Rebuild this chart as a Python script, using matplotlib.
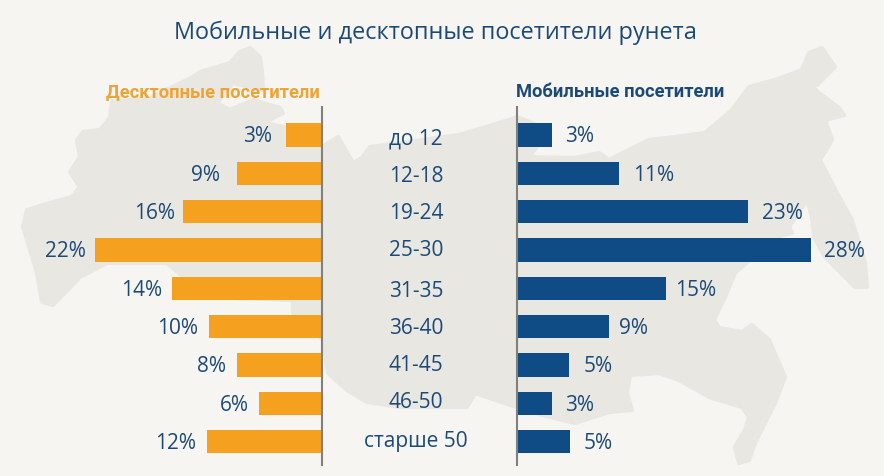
import matplotlib
matplotlib.use("Agg")
import matplotlib.pyplot as plt
from matplotlib.patches import Polygon

age_groups = ["до 12", "12-18", "19-24", "25-30", "31-35", "36-40", "41-45", "46-50", "старше 50"]
desktop_labels = [3, 9, 16, 22, 14, 10, 8, 6, 12]
mobile_labels = [3, 11, 23, 28, 15, 9, 5, 3, 5]
# bar lengths as drawn, they are not quite proportional to the printed numbers
desktop_bars = [3.5, 8.25, 13.5, 22.0, 14.6, 11.0, 8.25, 6.1, 11.2]
mobile_bars = [3.3, 9.7, 22.0, 28.0, 14.2, 8.75, 4.95, 3.3, 5.05]

BG = "#f6f5f1"
MAP = "#e9e7e1"
ORANGE = "#f5a11f"
BLUE = "#0f4c86"
TEXT = "#1c4a78"
AXIS = "#80807c"
W, H = 884, 476

# the labels in the picture do not sit on a regular grid, offsets in pixels
desktop_gap = [14, 17, 8, 10, 9, 11, 11, 10, 11]
mobile_gap = [13, 14, 14, 13, 9, 10, 15, 13, 14]
center_shift = [2, 1, 0, -1, 1, 0, -1, -3, -2]
value_drop = 2

plt.rcParams["font.family"] = ["Open Sans", "DejaVu Sans"]

fig = plt.figure(figsize=(W / 100, H / 100), dpi=100, facecolor=BG)

# background map, pixel coordinates
bg = fig.add_axes([0, 0, 1, 1])
bg.set_xlim(0, W)
bg.set_ylim(H, 0)
bg.axis("off")
map_outline = [(23, 227), (27, 210), (50, 203), (72, 197), (80, 187), (70, 172), (80, 157), (77, 140),
               (83, 132), (100, 130), (110, 118), (112, 102), (150, 98), (193, 77), (200, 72), (230, 63),
               (240, 52), (250, 48), (260, 57), (262, 72), (263, 90), (233, 83), (217, 103), (230, 110),
               (253, 100), (280, 108), (283, 113), (263, 123), (300, 130), (322, 147), (338, 137),
               (353, 163), (362, 158), (370, 147), (400, 143), (459, 135), (509, 120), (517, 117),
               (549, 130), (529, 157), (575, 158), (599, 153), (609, 160), (649, 140), (675, 137),
               (705, 133), (732, 110), (749, 87), (775, 80), (802, 70), (809, 53), (822, 48), (835, 67),
               (829, 73), (817, 85), (805, 80), (819, 93), (839, 108), (844, 115), (825, 120), (832, 140),
               (820, 160), (837, 193), (852, 220), (865, 263), (867, 287), (855, 287), (825, 257),
               (814, 237), (812, 217), (800, 173), (805, 203), (789, 227), (792, 233), (775, 237),
               (735, 273), (725, 297), (714, 320), (719, 328), (742, 332), (752, 325), (769, 340),
               (785, 377), (775, 403), (765, 423), (755, 443), (749, 460), (739, 463), (735, 447),
               (745, 430), (749, 417), (742, 407), (709, 397), (679, 380), (659, 373), (630, 375),
               (627, 393), (632, 410), (609, 412), (575, 423), (542, 415), (519, 408), (475, 393),
               (467, 407), (442, 407), (400, 407), (367, 402), (347, 390), (328, 373), (323, 340),
               (293, 313), (293, 300), (207, 297), (167, 263), (107, 263), (80, 277), (53, 305),
               (42, 302), (37, 273)]
bg.add_patch(Polygon(map_outline, closed=True, facecolor=MAP, edgecolor=MAP, linewidth=3, joinstyle="round"))

bg.text(435, 32.5, "Мобильные и десктопные посетители рунета", color=TEXT, fontsize=16.9,
        ha="center", va="center")
bg.text(320, 92, "Десктопные посетители", color="#eda437", fontsize=13.2, fontweight="bold",
        family=["Roboto", "DejaVu Sans"], ha="right", va="center")
bg.text(516, 92, "Мобильные посетители", color=TEXT, fontsize=13.2, fontweight="bold",
        family=["Roboto", "DejaVu Sans"], ha="left", va="center")

y_pos = list(range(len(age_groups)))

# two panels, the left one grows to the left from its axis line
top, bottom = 107, 465
ax_l = fig.add_axes([0, 1 - bottom / H, 322 / W, (bottom - top) / H])
ax_r = fig.add_axes([517 / W, 1 - bottom / H, (W - 517) / W, (bottom - top) / H])
for ax in (ax_l, ax_r):
    ax.patch.set_alpha(0)
    ax.set_ylim((bottom - 135) / 38.33, (top - 135) / 38.33)
    ax.set_xticks([])
    ax.set_yticks([])
    for side in ("top", "bottom", "left", "right"):
        ax.spines[side].set_visible(False)

ax_l.set_xlim(322 / 10.3, 0)
ax_r.set_xlim(0, (W - 517) / 10.5)
ax_l.spines["right"].set_visible(True)
ax_l.spines["right"].set_color(AXIS)
ax_l.spines["right"].set_linewidth(1.5)
ax_r.spines["left"].set_visible(True)
ax_r.spines["left"].set_color(AXIS)
ax_r.spines["left"].set_linewidth(1.5)

ax_l.barh(y_pos, desktop_bars, height=0.61, color=ORANGE)
ax_r.barh(y_pos, mobile_bars, height=0.61, color=BLUE)

for y, bar, val, gap in zip(y_pos, desktop_bars, desktop_labels, desktop_gap):
    ax_l.annotate(f"{val}%", (bar, y), xytext=(-gap, -value_drop), textcoords="offset pixels", ha="right",
                  va="center", color=TEXT, fontsize=15)
for y, bar, val, gap in zip(y_pos, mobile_bars, mobile_labels, mobile_gap):
    ax_r.annotate(f"{val}%", (bar, y), xytext=(gap, -value_drop), textcoords="offset pixels", ha="left",
                  va="center", color=TEXT, fontsize=15)

# age groups in the gap between the two panels
for y, name, shift in zip(y_pos, age_groups, center_shift):
    ax_r.annotate(name, (0, y), xytext=(-101, -shift - value_drop), textcoords="offset pixels", ha="center",
                  va="center", color=TEXT, fontsize=15)

fig.savefig("out.png", dpi=100, facecolor=BG)
